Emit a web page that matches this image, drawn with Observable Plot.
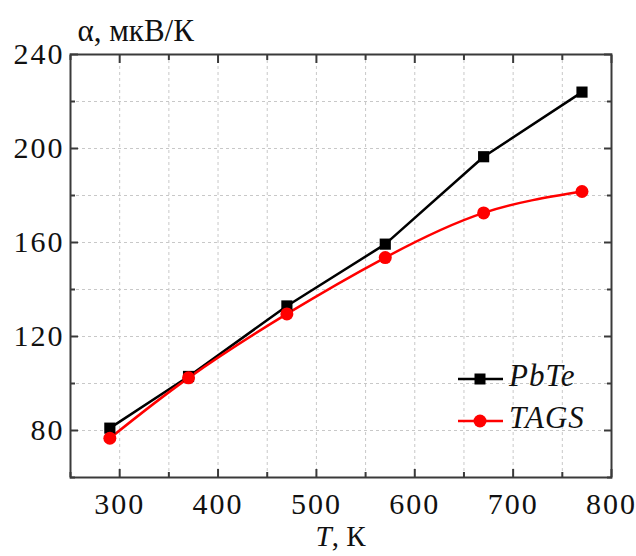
<!DOCTYPE html>
<html>
<head>
<meta charset="utf-8">
<script src="https://cdn.jsdelivr.net/npm/d3@7"></script>
<script src="https://cdn.jsdelivr.net/npm/@observablehq/plot@0.6"></script>
<style>
  html, body { margin: 0; padding: 0; background: #fff; }
  #wrap { position: relative; width: 636px; height: 556px; font-family: "Liberation Serif", serif; }
  #chart svg text { font-family: "Liberation Serif", serif; }
  #xlabel { position: absolute; left: 0; width: 681px; top: 522px; line-height: 28px; height: 28px; text-align: center; font-size: 29px; color: #111; font-family: "Liberation Serif", serif; }
  #legend { position: absolute; left: 0; top: 0; }
</style>
</head>
<body>
<div id="wrap">
  <div id="chart"></div>
  <div id="xlabel"><i>T</i>, К</div>
  <svg id="legend" width="636" height="556"></svg>
</div>
<script>
// Data
const temperature = [290, 370, 470, 570, 670, 770];
const pbte = [81, 103, 133, 159.3, 196.5, 224];
const tags = [76.7, 102.4, 129.6, 153.6, 172.6, 181.7];
const seriesNames = ["PbTe", "TAGS"];
const seriesColors = ["#000000", "#ff0000"];
const xMajor = [300, 400, 500, 600, 700, 800];
const xMinor = [250, 350, 450, 550, 650, 750];
const yMajor = [80, 120, 160, 200, 240];
const yMinor = [60, 100, 140, 180, 220];
const xGrid = [300, 350, 400, 450, 500, 550, 600, 650, 700, 750];
const yGrid = [80, 100, 120, 140, 160, 180, 200, 220];

const rows = [];
temperature.forEach((t, i) => {
  rows.push({T: t, a: pbte[i], s: seriesNames[0]});
  rows.push({T: t, a: tags[i], s: seriesNames[1]});
});

const font = "Liberation Serif";
const frameColor = "#3a3a3a";
const gridStyle = {stroke: "#c8c8c8", strokeOpacity: 1, strokeDasharray: "3,3", strokeWidth: 1};
const tickStyle = {stroke: frameColor, strokeWidth: 2, label: null, tickFormat: () => ""};

const chart = Plot.plot({
  width: 636,
  height: 556,
  marginLeft: 70,
  marginRight: 25,
  marginTop: 54,
  marginBottom: 79,
  style: {fontFamily: font, background: "#fff", color: "#111"},
  x: {domain: [250, 800]},
  y: {domain: [60, 240]},
  color: {domain: seriesNames, range: seriesColors},
  marks: [
    Plot.gridX(xGrid, gridStyle),
    Plot.gridY(yGrid, gridStyle),
    // tick labels
    Plot.axisX(xMajor, {anchor: "bottom", tickSize: 0, tickPadding: 15, fontSize: 30, fontFamily: font, label: null, fill: "#111"}),
    Plot.axisY(yMajor, {anchor: "left", tickSize: 0, tickPadding: 6, fontSize: 30, fontFamily: font, label: null, fill: "#111"}),
    // inward ticks
    Plot.axisX(xMajor, {anchor: "bottom", tickSize: -8, ...tickStyle}),
    Plot.axisX(xMinor, {anchor: "bottom", tickSize: -5, ...tickStyle}),
    Plot.axisX(xMajor, {anchor: "top", tickSize: -8, ...tickStyle}),
    Plot.axisX(xMinor, {anchor: "top", tickSize: -5, ...tickStyle}),
    Plot.axisY(yMajor, {anchor: "left", tickSize: -8, ...tickStyle}),
    Plot.axisY(yMinor, {anchor: "left", tickSize: -5, ...tickStyle}),
    Plot.axisY(yMajor, {anchor: "right", tickSize: -8, ...tickStyle}),
    Plot.axisY(yMinor, {anchor: "right", tickSize: -5, ...tickStyle}),
    Plot.frame({stroke: frameColor, strokeWidth: 2}),
    Plot.line(rows.filter(d => d.s === "PbTe"), {x: "T", y: "a", stroke: seriesColors[0], strokeWidth: 2.5, curve: "linear"}),
    Plot.line(rows.filter(d => d.s === "TAGS"), {x: "T", y: "a", stroke: seriesColors[1], strokeWidth: 2.5, curve: "natural"}),
    Plot.dot(rows.filter(d => d.s === "PbTe"), {x: "T", y: "a", symbol: "square", r: 6.3, fill: seriesColors[0], stroke: null}),
    Plot.dot(rows.filter(d => d.s === "TAGS"), {x: "T", y: "a", symbol: "circle", r: 6.5, fill: seriesColors[1], stroke: null}),
    Plot.text(["α, мкВ/К"], {frameAnchor: "top-left", dx: 7, dy: -14, textAnchor: "start", lineAnchor: "bottom", fontSize: 31, fontFamily: font, fill: "#111"})
  ]
});
document.getElementById("chart").appendChild(chart);

// widen numeric tick labels slightly, as in the reference
d3.select(chart).selectAll("text")
  .filter(function () { return /^\d+$/.test(this.textContent); })
  .attr("letter-spacing", "2px");

// Legend overlay
const leg = d3.select("#legend");
const legendY = [379, 421];
seriesNames.forEach((name, i) => {
  const g = leg.append("g").attr("transform", `translate(0,${legendY[i]})`);
  g.append("line").attr("x1", 458).attr("x2", 503).attr("y1", 0).attr("y2", 0)
    .attr("stroke", seriesColors[i]).attr("stroke-width", 2.5);
  if (i === 0) {
    g.append("rect").attr("x", 474.5).attr("y", -5.5).attr("width", 11).attr("height", 11).attr("fill", seriesColors[i]);
  } else {
    g.append("circle").attr("cx", 480).attr("cy", 0).attr("r", 6.5).attr("fill", seriesColors[i]);
  }
  g.append("text").attr("x", 509).attr("y", 7).attr("font-size", 31).attr("font-style", "italic")
    .attr("letter-spacing", "1px")
    .attr("font-family", font).attr("fill", "#111").text(name);
});
</script>
</body>
</html>
